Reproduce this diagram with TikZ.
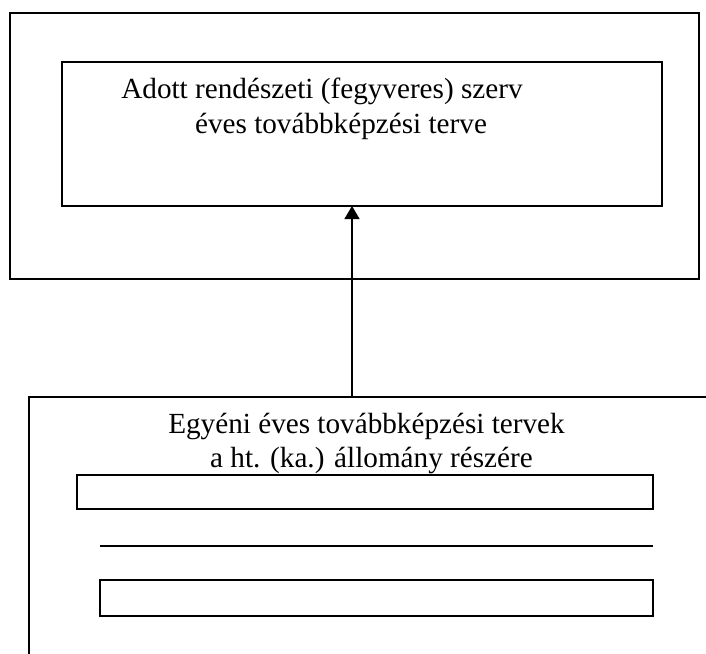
\documentclass[tikz,border=0pt]{standalone}
\usepackage{fontspec}
\setmainfont{Liberation Serif}
\usetikzlibrary{arrows.meta, positioning}

\begin{document}
\begin{tikzpicture}[x=1pt, y=-1pt,
    doboz/.style={draw, inner sep=0pt, outer sep=0pt},
    felirat/.style={font=\fontsize{29.2pt}{35pt}\selectfont, anchor=base, inner sep=0pt}]
    \useasboundingbox (0,0) rectangle (706,653);
    \clip (0,0) rectangle (706,653);

    % Upper frame
    \node[doboz, line width=2pt, minimum width=689pt, minimum height=266pt] (szerv) at (354.5,146) {};
    \node[doboz, line width=1.3pt, minimum width=600pt, minimum height=144pt] (terv) at (362,134) {};
    \node[felirat] (terv1) at (322,98) {Adott rendészeti (fegyveres) szerv};
    \node[felirat] (terv2) at (341,133) {éves továbbképzési terve};

    % Lower frame
    \node[doboz, line width=1.8pt, minimum width=720pt, minimum height=300pt] (egyeni) at (388.7,547) {};
    \node[felirat] (egyeni1) at (366.5,433) {Egyéni éves továbbképzési tervek};
    \node[felirat] (egyeni2) at (371.5,467) {a ht. (ka.) állomány részére};

    % Rows
    \node[doboz, line width=2pt, minimum width=576pt, minimum height=34pt] (sor1) at (365,492) {};
    \coordinate (vonalbal) at (100,546);
    \coordinate (vonaljobb) at (653,546);
    \draw[line width=2pt] (vonalbal) -- (vonaljobb);
    \node[doboz, line width=2pt, minimum width=553pt, minimum height=36pt] (sor3) at (376.5,598) {};

    % Arrow
    \coordinate (nyil) at (352,0);
    \draw[line width=1.3pt, -{Triangle[length=13pt, width=15pt]}] (egyeni.north -| nyil) -- (terv.south -| nyil);
\end{tikzpicture}
\end{document}
